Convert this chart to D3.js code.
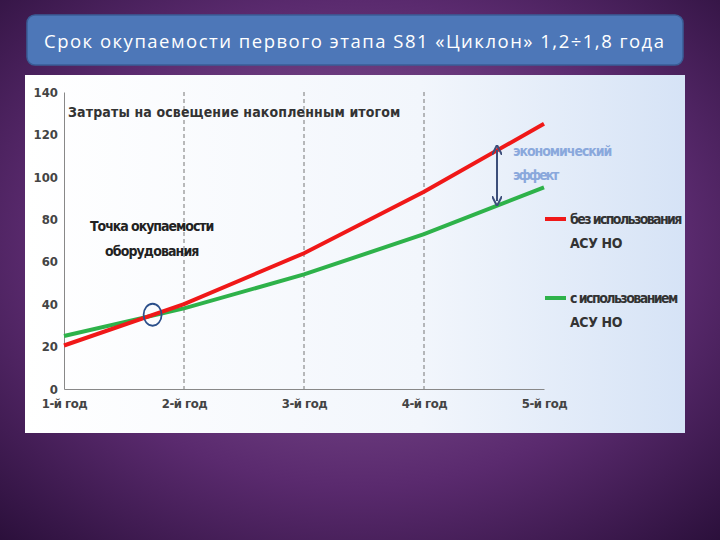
<!DOCTYPE html>
<html><head><meta charset="utf-8">
<script src="https://cdn.jsdelivr.net/npm/d3@7"></script>
<style>body{margin:0;width:720px;height:540px;overflow:hidden}</style>
</head><body><svg id="c" width="720" height="540"></svg>
<script>
var years = ['1-й год','2-й год','3-й год','4-й год','5-й год'];
var yTicks = [0,20,40,60,80,100,120,140];
var withoutSys = [20.5,40,64,93,125];
var withSys = [25,38,54,73,95];
var payback = {x:1.73,y:35};

var svg = d3.select('#c');
var defs = svg.append('defs');
var bg = defs.append('radialGradient').attr('id','bg').attr('cx','50%').attr('cy','45%').attr('r','75%');
bg.append('stop').attr('offset','0%').attr('stop-color','#8f5fa0');
bg.append('stop').attr('offset','60%').attr('stop-color','#5a2a6e');
bg.append('stop').attr('offset','100%').attr('stop-color','#2a0f3a');
var pg = defs.append('linearGradient').attr('id','pg').attr('x1','0').attr('x2','1');
pg.append('stop').attr('offset','0%').attr('stop-color','#ffffff');
pg.append('stop').attr('offset','60%').attr('stop-color','#f2f6fc');
pg.append('stop').attr('offset','100%').attr('stop-color','#d6e3f6');

svg.append('rect').attr('width',720).attr('height',540).attr('fill','url(#bg)');
svg.append('rect').attr('x',27).attr('y',15).attr('width',656).attr('height',50).attr('rx',8)
  .attr('fill','#4d77b8').attr('stroke','#3a5d96').attr('stroke-width',1.5);
svg.append('text').attr('x',44).attr('y',48).attr('fill','#fff')
  .attr('font-family','"Open Sans", sans-serif').attr('font-size',18.5).attr('textLength',620)
  .text('Срок окупаемости  первого этапа  S81 «Циклон» 1,2÷1,8 года');

svg.append('rect').attr('x',25).attr('y',75).attr('width',660).attr('height',358).attr('fill','url(#pg)');

var ff = '"DejaVu Sans Condensed","Liberation Sans",sans-serif';
var x = d3.scaleLinear().domain([0,4]).range([64,544]);
var y = d3.scaleLinear().domain([0,140]).range([389,92]);
var g = svg.append('g').attr('font-family',ff);

g.selectAll('.vl').data([1,2,3]).enter().append('line')
  .attr('x1',d=>x(d)).attr('x2',d=>x(d)).attr('y1',y(140)).attr('y2',y(0))
  .attr('stroke','#777').attr('stroke-dasharray','4,3');

var ya = g.append('g').attr('transform','translate(64,0)')
  .call(d3.axisLeft(y).tickValues(yTicks).tickSize(0).tickPadding(6));
ya.select('.domain').attr('stroke','#888');
ya.selectAll('text').attr('font-size',13).attr('font-weight','bold').attr('fill','#444').attr('font-family',ff);

var xa = g.append('g').attr('transform','translate(0,'+y(0)+')')
  .call(d3.axisBottom(x).tickValues([0,1,2,3,4]).tickFormat(i=>years[i]).tickSize(0).tickPadding(10));
xa.select('.domain').attr('stroke','#888');
xa.selectAll('text').attr('font-size',13).attr('font-weight','bold').attr('fill','#444').attr('font-family',ff).attr('letter-spacing',-0.5);

var line = d3.line().x((d,i)=>x(i)).y(d=>y(d));
g.append('path').datum(withSys).attr('d',line).attr('fill','none').attr('stroke','#2eb24a').attr('stroke-width',4);
g.append('path').datum(withoutSys).attr('d',line).attr('fill','none').attr('stroke','#f01818').attr('stroke-width',4);

g.append('ellipse').attr('cx',x(payback.x-1)+1).attr('cy',y(payback.y)).attr('rx',9).attr('ry',11)
  .attr('fill','none').attr('stroke','#2b4f8a').attr('stroke-width',1.8);

function txt(xx,yy,t,opt){
  opt=opt||{};
  return g.append('text').attr('x',xx).attr('y',yy).attr('font-size',opt.s||14).attr('font-weight','bold')
    .attr('fill',opt.c||'#333').attr('text-anchor',opt.a||'start').attr('letter-spacing',-0.4).text(t);
}
txt(68,117,'Затраты на освещение накопленным итогом').attr('textLength',332);
txt(152,231,'Точка окупаемости',{a:'middle',c:'#222'}).attr('textLength',124);
txt(152,256,'оборудования',{a:'middle',c:'#222'}).attr('textLength',94);

defs.append('marker').attr('id','ah').attr('viewBox','0 0 10 10').attr('refX',5).attr('refY',5)
  .attr('markerWidth',5).attr('markerHeight',5).attr('orient','auto-start-reverse')
  .append('path').attr('d','M0,0L10,5L0,10').attr('fill','none').attr('stroke','#3c4e7a').attr('stroke-width',2);
g.append('line').attr('x1',497).attr('x2',497).attr('y1',150).attr('y2',201)
  .attr('stroke','#3c4e7a').attr('stroke-width',2).attr('marker-start','url(#ah)').attr('marker-end','url(#ah)');
txt(513,156,'экономический',{c:'#8aa8dc'}).attr('textLength',99);
txt(513,180,'эффект',{c:'#8aa8dc'}).attr('textLength',46);

var legend = [{c:'#f01818',t:['без использования','АСУ НО'],y:219},{c:'#2eb24a',t:['с использованием','АСУ НО'],y:298}];
legend.forEach(function(l){
  g.append('line').attr('x1',545).attr('x2',566).attr('y1',l.y).attr('y2',l.y).attr('stroke',l.c).attr('stroke-width',4);
  l.t.forEach(function(t,i){
    var e = txt(570,l.y+5+i*24,t);
    if(!i) e.attr('textLength',t.length>16?112:108);
  });
});
</script></body></html>
